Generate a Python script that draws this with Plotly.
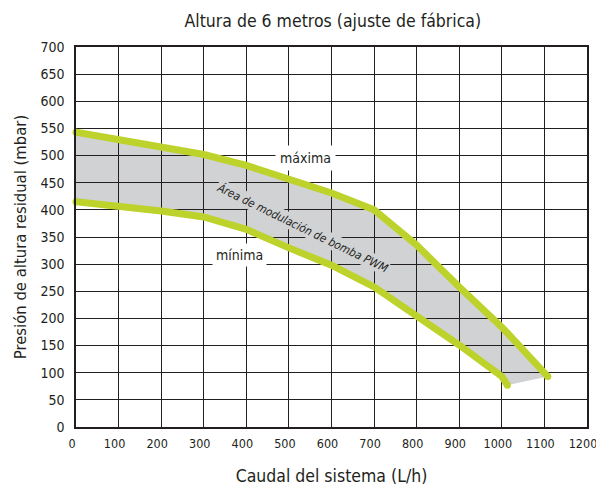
import plotly.graph_objects as go

# caudal (L/h) y presión (mbar)
flow_max = [0, 100, 200, 300, 400, 500, 600, 700, 800, 900, 1000, 1108]
pres_max = [543, 529, 516, 502, 482, 458, 431, 400, 335, 258, 184, 93]

flow_min = [0, 100, 200, 300, 400, 500, 600, 700, 800, 900, 1000, 1013]
pres_min = [415, 407, 398, 387, 364, 330, 298, 258, 206, 151, 93, 77]

x_ticks = list(range(0, 1201, 100))
y_ticks = list(range(0, 701, 50))

FONT = "Liberation Sans Narrow, Arial Narrow, DejaVu Sans Condensed, sans-serif"
TXT = "#231f20"
GREEN = "#bdd22a"
GRAY = "#d1d2d4"

fig = go.Figure()

# zona de modulación: polígono entre ambas curvas, por debajo de la rejilla
pts = list(zip(flow_max, pres_max)) + list(zip(flow_min, pres_min))[::-1]
path = "M " + " L ".join(f"{x},{y}" for x, y in pts) + " Z"
fig.add_shape(type="path", path=path, xref="x", yref="y",
              fillcolor=GRAY, line=dict(width=0), layer="below")

for xs, ys, name in [(flow_max, pres_max, "máxima"), (flow_min, pres_min, "mínima")]:
    fig.add_trace(go.Scatter(x=xs, y=ys, mode="lines", name=name,
                             line=dict(color=GREEN, width=7), hoverinfo="skip"))
    # extremos redondeados
    fig.add_trace(go.Scatter(x=[xs[0], xs[-1]], y=[ys[0], ys[-1]], mode="markers",
                             marker=dict(color=GREEN, size=7), cliponaxis=False,
                             showlegend=False, hoverinfo="skip"))

fig.add_annotation(x=538, y=495, text="máxima", showarrow=False, bgcolor="white",
                   borderpad=4, font=dict(family=FONT, size=14, color=TXT))
fig.add_annotation(x=383, y=317, text="mínima", showarrow=False, bgcolor="white",
                   borderpad=3, font=dict(family=FONT, size=14, color=TXT))
fig.add_annotation(x=533, y=367, text="<i>Área de modulación de bomba PWM</i>",
                   showarrow=False, textangle=26, bgcolor=GRAY, borderpad=0,
                   font=dict(family=FONT, size=11.5, color=TXT))

axis_common = dict(showgrid=True, gridcolor=TXT, gridwidth=1.3, showline=True,
                   linecolor=TXT, linewidth=1.5, mirror=True, zeroline=False,
                   ticks="outside", tickcolor="rgba(0,0,0,0)", automargin=False,
                   ticklabeloverflow="allow")

fig.update_xaxes(range=[0, 1200], tickvals=x_ticks, ticklen=4, ticklabelshift=-4,
                 tickfont=dict(family=FONT, size=12.5, color=TXT),
                 title=dict(text="Caudal del sistema (L/h)", standoff=20,
                            font=dict(family=FONT, size=17.5, color=TXT)),
                 **axis_common)
fig.update_yaxes(range=[0, 700], tickvals=y_ticks, ticklen=7,
                 tickfont=dict(family=FONT, size=14, color=TXT),
                 title=dict(text="Presión de altura residual (mbar)", standoff=10,
                            font=dict(family=FONT, size=16.5, color=TXT)),
                 **axis_common)

# la página añade 8 px de margen, así que la figura es algo menor que la ventana
fig.update_layout(
    width=596, height=480,
    title=dict(text="Altura de 6 metros (ajuste de fábrica)", x=0.545, xanchor="center",
               y=1 - 13 / 480, yanchor="middle", font=dict(family=FONT, size=17.5, color=TXT)),
    showlegend=False,
    paper_bgcolor="white", plot_bgcolor="white",
    margin=dict(l=68, r=17, t=39, b=61, autoexpand=False),
)

fig.write_html("out.html")
